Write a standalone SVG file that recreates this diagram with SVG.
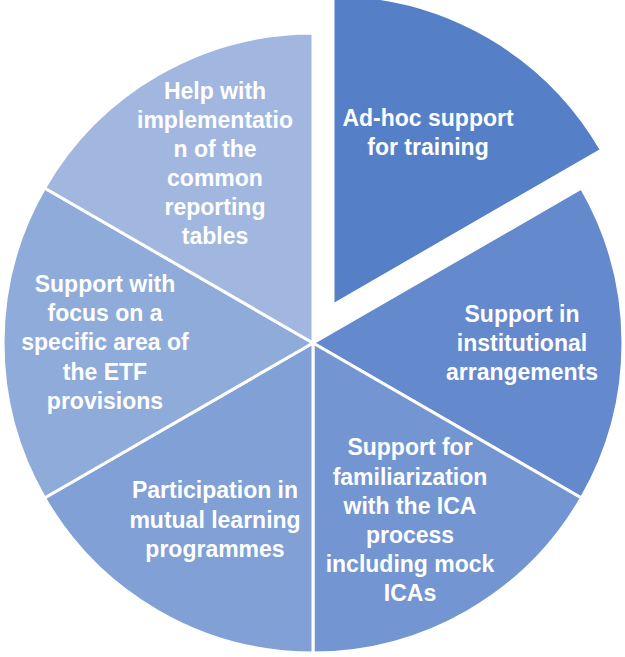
<svg xmlns="http://www.w3.org/2000/svg" width="625" height="657" viewBox="0 0 625 657">
<style>
.s{stroke:#ffffff;stroke-width:3;stroke-linejoin:round}
.t{font-family:"Liberation Sans",Arial,sans-serif;font-weight:bold;font-size:23px;fill:#ffffff;text-anchor:middle}
</style>
<rect width="625" height="657" fill="#ffffff"/>
<g id="slice-adhoc">
<path class="s" d="M333,305 L333,-5 A310,310 0 0 1 601.47,150 Z" fill="#5580C8"/>
<text class="t"><tspan x="428" y="126">Ad-hoc support</tspan><tspan x="428" y="155">for training</tspan></text>
</g>
<g id="slice-institutional">
<path class="s" d="M313,343 L581.47,188 A310,310 0 0 1 581.47,498 Z" fill="#6589CD"/>
<text class="t"><tspan x="522" y="322">Support in</tspan><tspan x="522" y="351">institutional</tspan><tspan x="522" y="380">arrangements</tspan></text>
</g>
<g id="slice-ica">
<path class="s" d="M313,343 L581.47,498 A310,310 0 0 1 313,653 Z" fill="#7396D2"/>
<text class="t"><tspan x="410" y="455">Support for</tspan><tspan x="410" y="484.5">familiarization</tspan><tspan x="410" y="514">with the ICA</tspan><tspan x="410" y="543">process</tspan><tspan x="410" y="572">including mock</tspan><tspan x="410" y="601">ICAs</tspan></text>
</g>
<g id="slice-mutual">
<path class="s" d="M313,343 L313,653 A310,310 0 0 1 44.53,498 Z" fill="#80A0D6"/>
<text class="t"><tspan x="215" y="498">Participation in</tspan><tspan x="215" y="527.5">mutual learning</tspan><tspan x="215" y="557">programmes</tspan></text>
</g>
<g id="slice-focus">
<path class="s" d="M313,343 L44.53,498 A310,310 0 0 1 44.53,188 Z" fill="#8FABDA"/>
<text class="t"><tspan x="105" y="292">Support with</tspan><tspan x="105" y="321">focus on a</tspan><tspan x="105" y="350">specific area of</tspan><tspan x="105" y="380">the ETF</tspan><tspan x="105" y="409">provisions</tspan></text>
</g>
<g id="slice-crt">
<path class="s" d="M313,343 L44.53,188 A310,310 0 0 1 313,33 Z" fill="#A1B7DF"/>
<text class="t"><tspan x="215" y="99">Help with</tspan><tspan x="215" y="128">implementatio</tspan><tspan x="215" y="157">n of the</tspan><tspan x="215" y="186">common</tspan><tspan x="215" y="215">reporting</tspan><tspan x="215" y="244">tables</tspan></text>
</g>
<g id="connectors"/>
</svg>
